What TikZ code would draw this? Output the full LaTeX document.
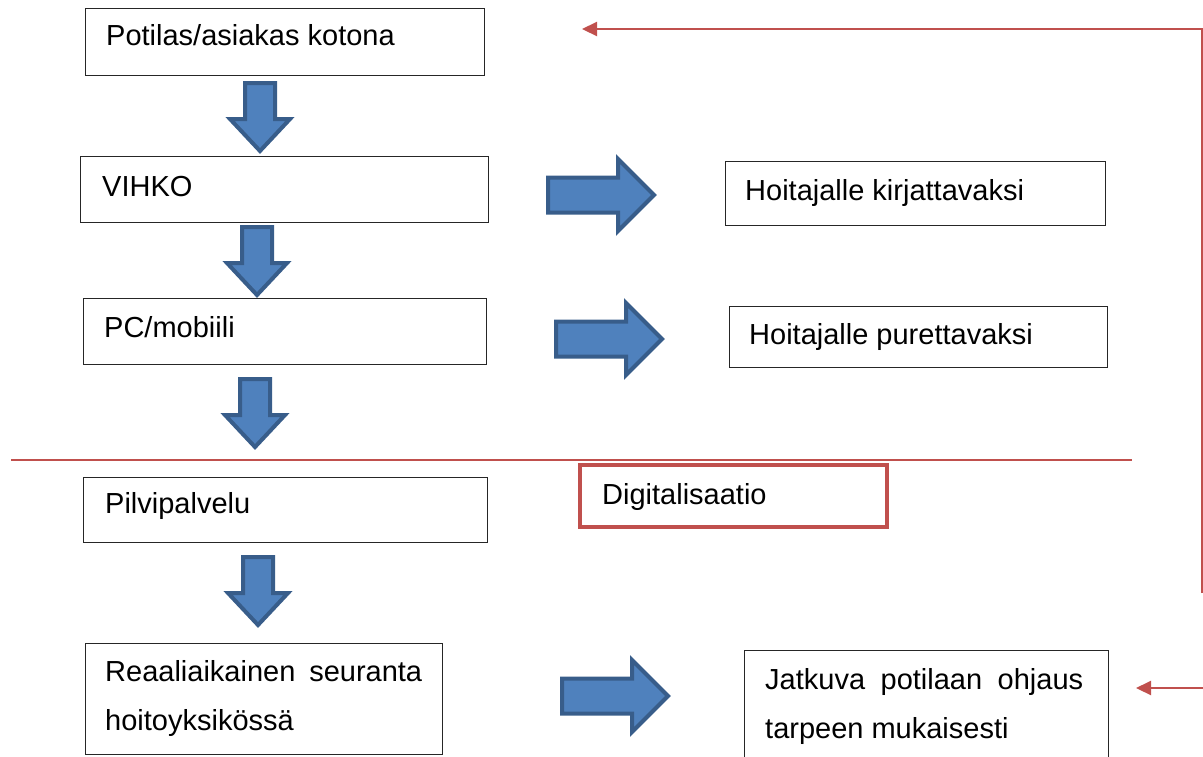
\documentclass[tikz,border=0pt]{standalone}
\usepackage{fontspec}
\setmainfont{Liberation Sans}
\usetikzlibrary{arrows.meta}
\definecolor{myred}{RGB}{192, 80, 77}
\definecolor{myblue}{RGB}{79, 129, 189}
\definecolor{mydarkblue}{RGB}{56, 93, 138}

\begin{document}
\begin{tikzpicture}[x=1pt, y=-1pt, >={Triangle[length=15pt, width=14pt]},
  box/.style={draw=black!85, line width=1.3pt, anchor=north west, inner sep=0pt},
  txt/.style={anchor=base west, inner sep=0pt, font=\fontsize{29}{49}\selectfont},
  blockarrow/.style={fill=myblue, draw=mydarkblue, line width=4pt, line join=miter},
  feedback/.style={draw=myred, line width=2.2pt},
  pics/downblock/.style={code={\path[blockarrow] (-15,0) -- (15,0) -- (15,36) -- (30,36) -- (0,68) -- (-30,36) -- (-15,36) -- cycle;}},
  pics/rightblock/.style={code={\path[blockarrow] (0,-17.5) -- (70,-17.5) -- (70,-36) -- (106,0) -- (70,36) -- (70,17.5) -- (0,17.5) -- cycle;}}]
  \useasboundingbox (0,0) rectangle (1203,756);

  % Boxes (left column)
  \node[box, minimum width=399pt, minimum height=67pt] (koti) at (85,8) {};
  \node[txt] (kotiT) at (106,45) {Potilas/asiakas kotona};

  \node[box, minimum width=408pt, minimum height=66pt] (vihko) at (80,156) {};
  \node[txt] (vihkoT) at (102,196) {VIHKO};

  \node[box, minimum width=403pt, minimum height=66pt] (pc) at (83,298) {};
  \node[txt] (pcT) at (104,337) {PC/mobiili};

  \node[box, minimum width=404pt, minimum height=65pt] (pilvi) at (83,477) {};
  \node[txt] (pilviT) at (105,513) {Pilvipalvelu};

  \node[box, minimum width=357pt, minimum height=111pt] (seuranta) at (85,643) {};
  \node[txt, text width=317pt, align=justify] (seurantaT) at (105,681)
    {Reaaliaikainen seuranta\linebreak hoitoyksikössä};

  % Boxes (right column)
  \node[box, minimum width=380pt, minimum height=64pt] (kirjaus) at (725,161) {};
  \node[txt] (kirjausT) at (745,200) {Hoitajalle kirjattavaksi};

  \node[box, minimum width=378pt, minimum height=61pt] (purku) at (729,306) {};
  \node[txt] (purkuT) at (749,344) {Hoitajalle purettavaksi};

  \node[box, draw=myred, line width=4pt, minimum width=307pt, minimum height=62pt] (digi) at (578,463) {};
  \node[txt] (digiT) at (602,504) {Digitalisaatio};

  \node[box, minimum width=364pt, minimum height=112pt] (ohjaus) at (744,650) {};
  \node[txt, text width=318pt, align=justify] (ohjausT) at (765,689)
    {Jatkuva potilaan ohjaus\linebreak tarpeen mukaisesti};

  % Block arrows
  \pic (a1) at (260,83) {downblock};
  \pic (a2) at (257,227) {downblock};
  \pic (a3) at (255,379) {downblock};
  \pic (a4) at (258,557) {downblock};
  \pic (r1) at (548,195) {rightblock};
  \pic (r2) at (556,339) {rightblock};
  \pic (r3) at (562,696) {rightblock};

  % Separator line
  \draw[feedback] (11,460) -- (1132,460);

  % Feedback lines
  \coordinate (sideEnd) at (1202,593);
  \coordinate (topR) at (1202,29);
  \coordinate (topL) at (582,29);
  \coordinate (botR) at (1204,688);
  \coordinate (botL) at (1136,688);
  \draw[feedback, ->] (sideEnd) -- (topR) -- (topL);
  \draw[feedback, ->] (botR) -- (botL);
\end{tikzpicture}
\end{document}
